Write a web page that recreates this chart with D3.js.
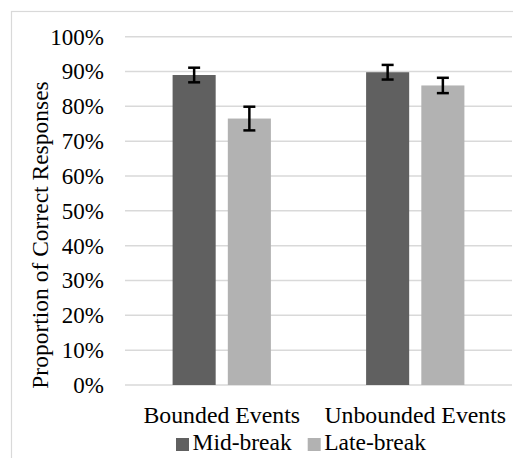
<!DOCTYPE html>
<html><head><meta charset="utf-8">
<script src="https://cdn.jsdelivr.net/npm/d3@7"></script>
<style>html,body{margin:0;padding:0;background:#fff;} svg{display:block;}</style>
</head><body>
<script>
const categories = ["Bounded Events", "Unbounded Events"];
const seriesNames = ["Mid-break", "Late-break"];
const midBreak = [0.89, 0.898];
const lateBreak = [0.765, 0.86];
const midErr = [0.021, 0.021];
const lateErr = [0.034, 0.022];
const yTicks = [0, 0.1, 0.2, 0.3, 0.4, 0.5, 0.6, 0.7, 0.8, 0.9, 1.0];
const colors = ["#606060", "#b2b2b2"];

const W = 513, H = 458;
const FONT = '"Liberation Serif"';
const svg = d3.select("body").append("svg").attr("width", W).attr("height", H);

svg.append("rect").attr("x", 11.5).attr("y", 11.5).attr("width", W + 10).attr("height", H + 10)
  .attr("fill", "#fff").attr("stroke", "#d9d9d9").attr("stroke-width", 1.2);

const plot = {left: 125, right: 512, top: 36.7, bottom: 385};
const y = d3.scaleLinear().domain([0, 1]).range([plot.bottom, plot.top]);
const x0 = d3.scaleBand().domain(categories).range([plot.left, plot.right]);
const x1 = d3.scaleBand().domain(seriesNames).range([47.6, 145.9]).paddingInner(0.22);

svg.append("g").selectAll("line").data(yTicks).join("line")
  .attr("x1", plot.left).attr("x2", plot.right)
  .attr("y1", d => y(d)).attr("y2", d => y(d))
  .attr("stroke", "#d9d9d9").attr("stroke-width", 1.5);

const yAxis = d3.axisLeft(y).tickValues(yTicks).tickFormat(d3.format(".0%")).tickSize(0).tickPadding(21);
const gy = svg.append("g").attr("transform", `translate(${plot.left},0)`).call(yAxis);
gy.select(".domain").remove();
gy.selectAll("text").style("font-family", FONT).style("font-size", "23px").attr("fill", "#000");

const data = categories.map((c, i) => [
  {cat: c, s: seriesNames[0], v: midBreak[i], e: midErr[i], col: colors[0]},
  {cat: c, s: seriesNames[1], v: lateBreak[i], e: lateErr[i], col: colors[1]}
]).flat();

svg.append("g").selectAll("rect").data(data).join("rect")
  .attr("x", d => x0(d.cat) + x1(d.s)).attr("width", x1.bandwidth())
  .attr("y", d => y(d.v)).attr("height", d => y(0) - y(d.v))
  .attr("fill", d => d.col);

const eb = svg.append("g").attr("stroke", "#000").attr("stroke-width", 2.5);
data.forEach(d => {
  const cx = x0(d.cat) + x1(d.s) + x1.bandwidth() / 2;
  const t = y(d.v + d.e), b = y(d.v - d.e);
  eb.append("line").attr("x1", cx).attr("x2", cx).attr("y1", t).attr("y2", b);
  eb.append("line").attr("x1", cx - 6).attr("x2", cx + 6).attr("y1", t).attr("y2", t);
  eb.append("line").attr("x1", cx - 6).attr("x2", cx + 6).attr("y1", b).attr("y2", b);
});

const xAxis = d3.axisBottom(x0).tickSize(0).tickPadding(21);
const gx = svg.append("g").attr("transform", `translate(0,${plot.bottom})`).call(xAxis);
gx.select(".domain").remove();
gx.selectAll("text").style("font-family", FONT).style("font-size", "23.8px").attr("fill", "#000");

svg.append("text").attr("transform", "translate(48,235) rotate(-90)")
  .attr("text-anchor", "middle").style("font-family", FONT).style("font-size", "23.5px")
  .text("Proportion of Correct Responses");

const legX = [176, 307.7];
const lg = svg.append("g");
seriesNames.forEach((s, i) => {
  lg.append("rect").attr("x", legX[i]).attr("y", 438).attr("width", 13).attr("height", 13).attr("fill", colors[i]);
  lg.append("text").attr("x", legX[i] + 16.5).attr("y", 449.5).style("font-family", FONT).style("font-size", "23.5px").text(s);
});
</script>
</body></html>
